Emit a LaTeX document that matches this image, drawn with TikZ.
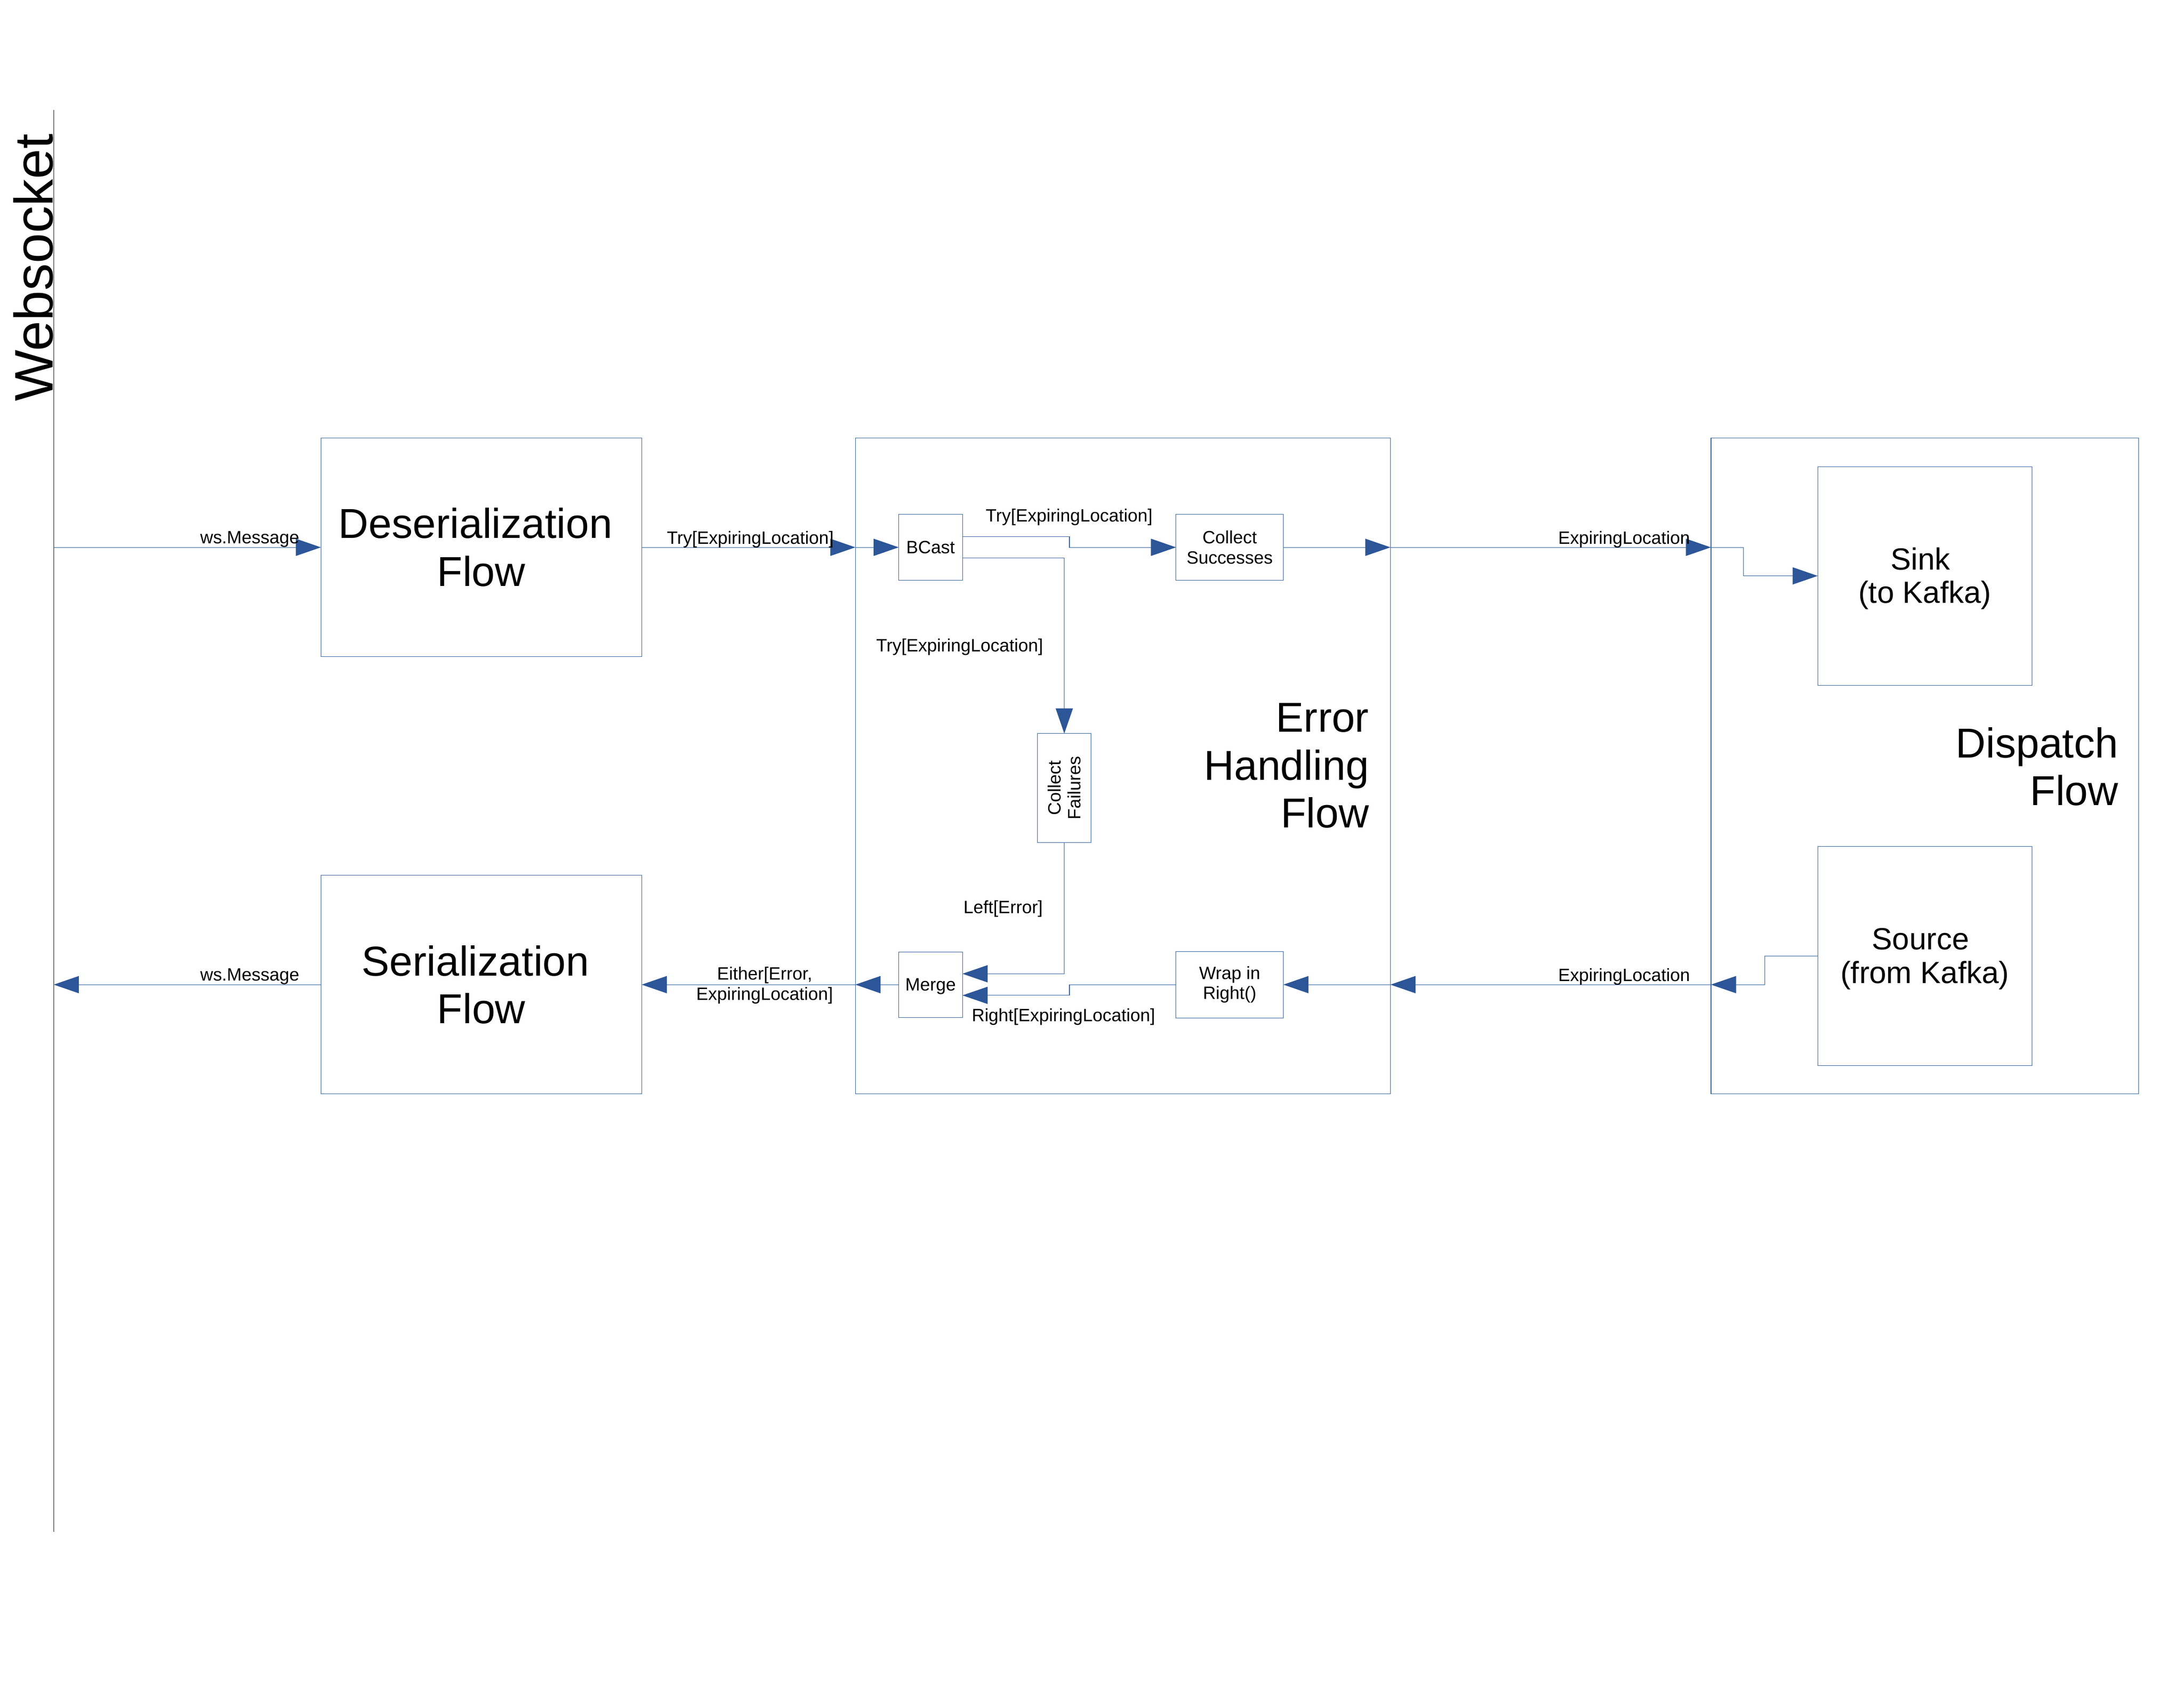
\documentclass[tikz,border=0pt]{standalone}
\usepackage{fontspec}
\setmainfont{Liberation Sans}
\usetikzlibrary{arrows.meta,calc}
\definecolor{lineblue}{HTML}{3465A4}
\definecolor{arrowblue}{HTML}{2C5697}
\definecolor{wsgray}{HTML}{1E1E1E}
\newcommand\lblfont{\fontsize{12.8pt}{14.5pt}\selectfont}
\newcommand\titlefont{\fontsize{30pt}{34.4pt}\selectfont}
\newcommand\kafkafont{\fontsize{22pt}{24pt}\selectfont}
\newcommand\wsfont{\fontsize{39pt}{44pt}\selectfont}
\newcommand\tsp{\hspace*{0.278em}}
\begin{document}
\begin{tikzpicture}[x=1pt,y=-1pt,
  box/.style={draw=lineblue, line width=0.4pt, inner sep=0pt, outer sep=0pt, rectangle, align=center},
  smallbox/.style={box, font=\lblfont},
  bigbox/.style={box, font=\titlefont},
  conn/.style={draw=lineblue, line width=0.4pt, -{Triangle[length=18pt,width=12.3pt,color=arrowblue]}},
  lbl/.style={font=\lblfont, inner sep=0pt, outer sep=0pt},
  kafka/.style={font=\kafkafont, inner sep=0pt, align=center},
  title/.style={font=\titlefont, inner sep=0pt, align=right, anchor=east},
]
\useasboundingbox (0,0) rectangle (1568,1211.7);

% Websocket
\coordinate (wstop) at (38.6,78.9);
\coordinate (wsbot) at (38.6,1099.9);
\draw[wsgray, line width=0.4pt] (wstop) -- (wsbot);
\node[font=\wsfont, rotate=90, anchor=base west, inner sep=0pt] (wstext) at (37.9,288.5) {Websocket};

% boxes
\node[bigbox, minimum width=230.3pt, minimum height=157pt] (deser) at (345.55,393) {Deserialization\tsp\\Flow};
\node[bigbox, minimum width=230.3pt, minimum height=157pt] (ser) at (345.55,707) {Serialization\tsp\\Flow};
\node[box, minimum width=384.1pt, minimum height=471pt] (eh) at (806.15,550) {};
\node[box, minimum width=307pt, minimum height=471pt] (disp) at (1381.9,550) {};
\node[smallbox, minimum width=45.8pt, minimum height=47.2pt] (bcast) at (668.1,393) {BCast};
\node[smallbox, minimum width=77.1pt, minimum height=47.2pt] (cs) at (882.85,393) {Collect\\Successes};
\node[box, minimum width=38.4pt, minimum height=78.1pt] (cf) at (764.1,565.75) {};
\node[lbl, rotate=90, align=center] (cftext) at (cf.center) {Collect\\Failures};
\node[smallbox, minimum width=45.8pt, minimum height=47pt, text depth=0pt] (merge) at (668.1,707) {Merge};
\node[smallbox, minimum width=77.1pt, minimum height=47.6pt] (wrap) at (882.85,707) {Wrap in\\Right()};
\node[box, minimum width=153.8pt, minimum height=157pt] (sink) at (1381.9,413.5) {};
\node[kafka] (sinktext) at (1381.9,415.4) {Sink\tsp\\(to Kafka)};
\node[box, minimum width=153.8pt, minimum height=157.3pt] (source) at (1381.9,686.35) {};
\node[kafka] (sourcetext) at (1381.9,688.6) {Source\tsp\\(from Kafka)};

% titles
\node[title] (ehtitle) at (983,549.75) {Error\\Handling\\Flow};
\node[title] (disptitle) at (1521,550.5) {Dispatch\\Flow};

% connectors
\coordinate (wsin) at (wstop |- deser.west);
\coordinate (wsout) at (wstop |- ser.west);
\draw[conn] (wsin) -- (deser.west);
\draw[conn] (deser.east) -- (deser.east -| eh.west);
\draw[conn] (deser.east -| eh.west) -- (bcast.west);
\draw[conn] ($(bcast.east)+(0,-7.6)$) -- ++(76.8,0) |- (cs.west);
\draw[conn] ($(bcast.east)+(0,7.5)$) -| (cf.north);
\draw[conn] (cs.east) -- (cs.east -| eh.east);
\draw[conn] (cs.east -| eh.east) -- (cs.east -| disp.west);
\draw[conn] (cs.east -| disp.west) -- ++(23.2,0) |- (sink.west);
\draw[conn] (source.west) -- ++(-38,0) |- (wrap.east -| disp.west);
\draw[conn] (wrap.east -| disp.west) -- (wrap.east -| eh.east);
\draw[conn] (wrap.east -| eh.east) -- (wrap.east);
\draw[conn] (wrap.west) -- ++(-76.5,0) |- ($(merge.east)+(0,7.7)$);
\draw[conn] (cf.south) |- ($(merge.east)+(0,-7.8)$);
\draw[conn] (merge.west) -- (merge.west -| eh.west);
\draw[conn] (merge.west -| eh.west) -- (ser.east);
\draw[conn] (ser.west) -- (wsout);

% labels
\node[lbl, anchor=base] (l1) at (179.3,390.3) {ws.Message};
\node[lbl, anchor=base] (l2) at (179.3,704.3) {ws.Message};
\node[lbl, anchor=base] (l3) at (538.7,390.6) {Try[ExpiringLocation]};
\node[lbl, anchor=base] (l4) at (767.6,374.5) {Try[ExpiringLocation]};
\node[lbl, anchor=base] (l5) at (689,468) {Try[ExpiringLocation]};
\node[lbl, anchor=base] (l6) at (1166,390.5) {ExpiringLocation};
\node[lbl, anchor=base] (l7) at (1166,704.5) {ExpiringLocation};
\node[lbl, anchor=base] (l8) at (720.2,655.7) {Left[Error]};
\node[lbl, anchor=base] (l9) at (763.5,733.4) {Right[ExpiringLocation]};
\node[lbl, align=center] (l10) at (549,707.5) {Either[Error,\\ExpiringLocation]};
\end{tikzpicture}
\end{document}
